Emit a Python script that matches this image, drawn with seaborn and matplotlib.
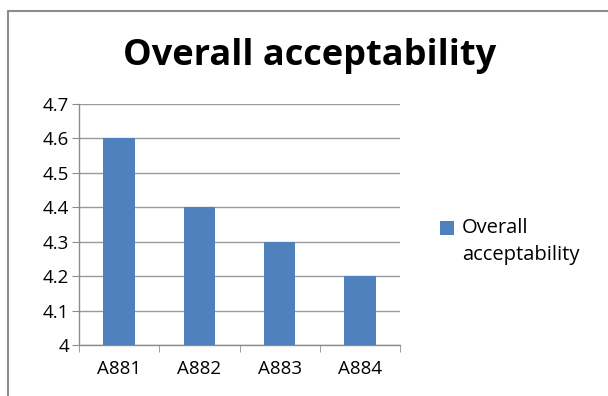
import matplotlib
matplotlib.use("Agg")
import matplotlib.pyplot as plt
import seaborn as sns
import pandas as pd
from matplotlib.lines import Line2D
from matplotlib.patches import Patch, Rectangle
from matplotlib.legend_handler import HandlerPatch

categories = ["A881", "A882", "A883", "A884"]
values = [4.6, 4.4, 4.3, 4.2]
yticks = [4.0, 4.1, 4.2, 4.3, 4.4, 4.5, 4.6, 4.7]
ytick_labels = ["4", "4.1", "4.2", "4.3", "4.4", "4.5", "4.6", "4.7"]
title = "Overall acceptability"
series_name = "Overall\nacceptability"

sns.set_style("white")
plt.rcParams['font.family'] = ['Open Sans', 'DejaVu Sans']
plt.rcParams['text.color'] = 'black'
plt.rcParams['xtick.color'] = 'black'
plt.rcParams['ytick.color'] = 'black'

df = pd.DataFrame({"cat": categories, "val": values})
fig = plt.figure(figsize=(6.08, 3.96), dpi=100)
ax = fig.add_axes([79/608, 1-345/396, (400-79)/608, (345-104)/396])

bar_color = "#4F81BD"
sns.barplot(data=df, x="cat", y="val", color=bar_color, width=0.39, ax=ax,
            saturation=1, zorder=3, linewidth=0, edgecolor="none")
ax.set_ylim(4.0, 4.7)
ax.set_xlim(-0.5, len(categories) - 0.5)
ax.set_yticks(yticks)
ax.set_yticklabels(ytick_labels)
ax.set_xlabel("")
ax.set_ylabel("")
ax.yaxis.grid(True, color="#9a9a9a", linewidth=1, zorder=0)
ax.set_axisbelow(True)

for s in ["top", "right"]:
    ax.spines[s].set_visible(False)
for s in ["left", "bottom"]:
    ax.spines[s].set_color("#8c8c8c")
    ax.spines[s].set_linewidth(1)

ax.tick_params(axis="y", length=5, color="#8c8c8c", labelcolor="black", labelsize=13.5, pad=2, direction="out", left=True)
ax.set_xticks([i - 0.5 for i in range(len(categories) + 1)], minor=True)
ax.tick_params(axis="x", which="major", length=0, labelcolor="black", labelsize=13.5, pad=11)
ax.tick_params(axis="x", which="minor", length=5, color="#8c8c8c", direction="out", bottom=True)

fig.text(310/608, 1-56/396, title, ha="center", va="center", fontsize=26, fontweight="bold", color="black")


def first_line_patch(legend, orig_handle, xdescent, ydescent, width, height, fontsize):
    # align the legend key with the first line of the two-line label
    return Rectangle((-xdescent, -ydescent + 10.0), width, height)


handle = Patch(facecolor=bar_color, edgecolor="none")
leg = fig.legend([handle], [series_name], loc="upper left", bbox_to_anchor=(440/608, 1-218/396),
                 frameon=False, fontsize=14.5, handlelength=0.68, handleheight=0.68,
                 handletextpad=0.4, borderpad=0, borderaxespad=0, labelcolor="black",
                 handler_map={Patch: HandlerPatch(patch_func=first_line_patch)})
for t in leg.get_texts():
    t.set_linespacing(1.45)

# outer chart-area border (left and top edges visible)
fig.add_artist(Line2D([8/608, 8/608], [0, 1-11/396], color="#8c8c8c", linewidth=1.5, transform=fig.transFigure))
fig.add_artist(Line2D([8/608, 1], [1-11/396, 1-11/396], color="#8c8c8c", linewidth=1.5, transform=fig.transFigure))

fig.savefig("out.png", dpi=100)
